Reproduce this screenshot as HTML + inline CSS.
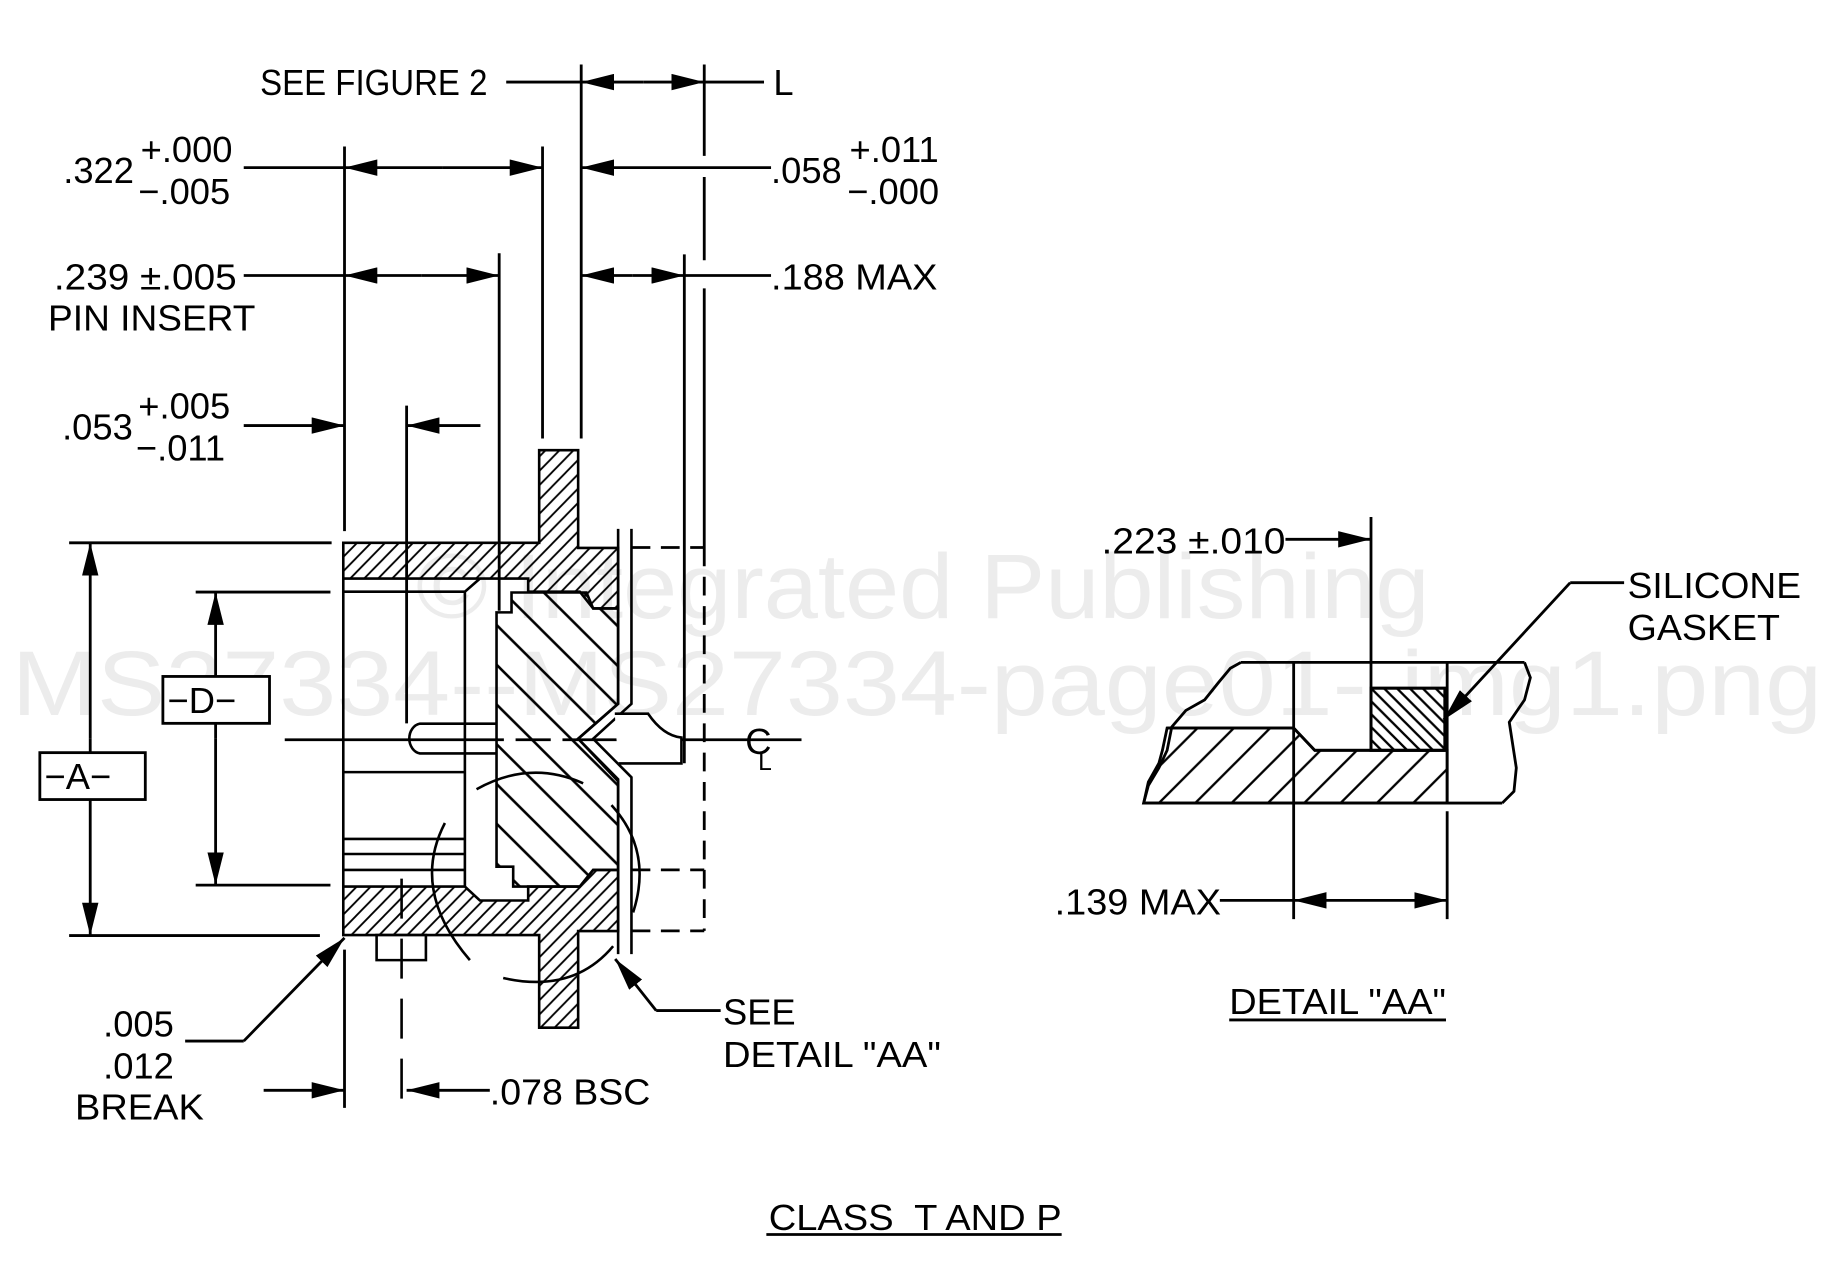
<!DOCTYPE html>
<html><head><meta charset="utf-8"><style>
html,body{margin:0;padding:0;background:#fff;}
svg{display:block;}
text{font-family:"Liberation Sans",Arial,sans-serif;fill:#000;}
</style></head><body>
<svg width="1828" height="1272" viewBox="0 0 1560 1085" preserveAspectRatio="none" xmlns="http://www.w3.org/2000/svg">
<defs>
<marker id="a" markerUnits="userSpaceOnUse" markerWidth="28" markerHeight="14" refX="28" refY="7" orient="auto"><path d="M0,0 L28,7 L0,14 z" fill="#000"/></marker>
<pattern id="h1" patternUnits="userSpaceOnUse" width="42" height="36"><path d="M0,36 L42,0 M-10.5,9 L10.5,-9 M31.5,45 L52.5,27" stroke="#000" stroke-width="5"/></pattern>
<pattern id="h2" patternUnits="userSpaceOnUse" width="120" height="100"><path d="M0,0 L120,100 M-60,50 L60,150 M60,-50 L180,50" stroke="#000" stroke-width="7"/></pattern>
<pattern id="h3" patternUnits="userSpaceOnUse" width="11" height="11"><path d="M0,0 L11,11 M-5.5,5.5 L5.5,16.5 M5.5,-5.5 L16.5,5.5" stroke="#000" stroke-width="2"/></pattern>
<pattern id="h4" patternUnits="userSpaceOnUse" width="31" height="31"><path d="M0,31 L31,0 M-8,8 L8,-8 M23,39 L39,23" stroke="#000" stroke-width="2"/></pattern>
</defs>

<!-- watermark -->
<text x="355" y="527" font-size="78" textLength="865" lengthAdjust="spacingAndGlyphs" style="fill:#ececec">© Integrated Publishing</text>
<text x="10" y="610" font-size="78" textLength="1545" lengthAdjust="spacingAndGlyphs" style="fill:#ececec">MS27334--MS27334-page01--img1.png</text>

<g stroke="#000" stroke-width="2.4" fill="none">
<path d="M294,125 V453 M294,810 V945 M463,125 V374 M496,55 V374 M347,346 V617 M426,216 V521 M584,217 V651 M601,55 V133 M601,151 V222 M601,246 V467"/>
<path d="M59,463 H283 M59,798 H273 M167,505 H282 M167,755 H282"/>
<path d="M432,70 H496 M601,70 H652"/>
<line x1="549" y1="70" x2="496" y2="70" marker-end="url(#a)"/>
<line x1="549" y1="70" x2="601" y2="70" marker-end="url(#a)"/>
<path d="M208,143 H294"/>
<line x1="378" y1="143" x2="294" y2="143" marker-end="url(#a)"/>
<line x1="378" y1="143" x2="463" y2="143" marker-end="url(#a)"/>
<line x1="658" y1="143" x2="496" y2="143" marker-end="url(#a)"/>
<path d="M208,235 H294"/>
<line x1="360" y1="235" x2="294" y2="235" marker-end="url(#a)"/>
<line x1="360" y1="235" x2="426" y2="235" marker-end="url(#a)"/>
<line x1="540" y1="235" x2="496" y2="235" marker-end="url(#a)"/>
<line x1="540" y1="235" x2="584" y2="235" marker-end="url(#a)"/>
<path d="M584,235 H658"/>
<line x1="208" y1="363" x2="294" y2="363" marker-end="url(#a)"/>
<line x1="410" y1="363" x2="347" y2="363" marker-end="url(#a)"/>
<line x1="77" y1="630" x2="77" y2="463" marker-end="url(#a)"/>
<line x1="77" y1="630" x2="77" y2="798" marker-end="url(#a)"/>
<line x1="184" y1="630" x2="184" y2="505" marker-end="url(#a)"/>
<line x1="184" y1="630" x2="184" y2="755" marker-end="url(#a)"/>
<rect x="34" y="642" width="90" height="40" fill="#fff"/>
<rect x="139" y="577" width="91" height="40" fill="#fff"/>
<path d="M243,631 H430 M440,631 H470 M480,631 H684" />
<path d="M539,467 H601 M539,742 H601 M539,794 H601 M601,467 V794" stroke-dasharray="16 9"/>
<path d="M158,888 H208"/>
<line x1="208" y1="888" x2="294" y2="800" marker-end="url(#a)"/>
<line x1="225" y1="930" x2="294" y2="930" marker-end="url(#a)"/>
<line x1="418" y1="930" x2="347" y2="930" marker-end="url(#a)"/>
<path d="M615,862 H560"/>
<line x1="560" y1="862" x2="525" y2="818" marker-end="url(#a)"/>
</g>

<g transform="matrix(0.2843 0 0 0.339 256 366.4)" stroke="#000" fill="none">
<g stroke-width="2.6">
<polygon vector-effect="non-scaling-stroke" fill="url(#h1)" points="130,285 718,285 718,52 835,52 835,298 955,298 955,450 880,450 840,408 685,408 685,375 130,375"/>
<polygon vector-effect="non-scaling-stroke" fill="url(#h1)" points="130,1150 495,1150 540,1185 685,1185 685,1150 840,1150 880,1108 955,1108 955,1262 835,1262 835,1505 718,1505 718,1272 130,1272"/>
<polygon vector-effect="non-scaling-stroke" fill="url(#h2)" points="590,460 635,460 635,410 860,410 880,450 955,450 955,690 835,778 955,885 955,1108 880,1108 840,1150 685,1150 640,1150 640,1100 590,1100"/>
<path vector-effect="non-scaling-stroke" d="M130,375 V1150 M130,408 H495 L540,375 M495,408 V1150 M130,862 H495 M130,1030 H495 M130,1068 H495 M130,1108 H495"/>
<path vector-effect="non-scaling-stroke" d="M590,740 H360 A38,38 0 0 0 360,815 H590"/>
<path vector-effect="non-scaling-stroke" d="M955,250 V690 L835,778 L955,880 V1320 M995,250 V690 L880,778 L995,875 V1320"/>
<path vector-effect="non-scaling-stroke" fill="#fff" d="M945,715 H1045 Q1090,770 1145,775 V840 H955"/>
<rect vector-effect="non-scaling-stroke" x="230" y="1272" width="148" height="63" fill="#fff"/>
<path vector-effect="non-scaling-stroke" d="M305,1130 V1707" stroke-dasharray="40 20"/>
<path vector-effect="non-scaling-stroke" d="M435,990 Q330,1160 510,1335 M530,905 Q690,830 850,890 M935,945 Q1060,1060 1000,1215 M610,1380 Q820,1420 940,1300"/>
</g>
</g>

<g stroke="#000" stroke-width="2.4" fill="none">
<path fill="url(#h4)" d="M996,621 H1104 L1122,640 H1235 V685 H976 L980,667 L989,651 L992,640 Z"/>
<path fill="#fff" d="M1170,587 H1233 V640 H1170 Z"/>
<path fill="url(#h3)" d="M1170,587 H1233 V640 H1170 Z"/>
<path d="M1059,565 H1301 M1059,565 L1050,570 L1040,582 L1028,597 L1012,606 L1000,620 L996,640 L989,655 L980,670 L976,685 H1282 M1301,565 L1306,578 L1301,597 L1288,616 L1294,655 L1292,675 L1282,685 M996,621 H1104 L1122,640 H1233 M1104,565 V784 M1170,441 V640 M1235,565 V685 M1235,692 V784"/>
<line x1="1097" y1="460" x2="1170" y2="460" marker-end="url(#a)"/>
<path d="M1041,768 H1104"/>
<line x1="1170" y1="768" x2="1104" y2="768" marker-end="url(#a)"/>
<line x1="1170" y1="768" x2="1235" y2="768" marker-end="url(#a)"/>
<path d="M1386,497 H1340"/>
<line x1="1340" y1="497" x2="1232" y2="614" marker-end="url(#a)"/>
<path d="M1049,870 H1234 M654,1053 H906"/>
</g>

<g font-size="31">
<text x="222" y="81" textLength="194" lengthAdjust="spacingAndGlyphs">SEE FIGURE 2</text>
<text x="660" y="81">L</text>
<text x="54" y="156">.322</text><text x="120" y="138">+.000</text><text x="118" y="174">−.005</text>
<text x="658" y="156">.058</text><text x="725" y="138">+.011</text><text x="723" y="174">−.000</text>
<text x="46" y="247" textLength="156" lengthAdjust="spacingAndGlyphs">.239 ±.005</text>
<text x="41" y="282" textLength="177" lengthAdjust="spacingAndGlyphs">PIN INSERT</text>
<text x="658" y="247" textLength="142" lengthAdjust="spacingAndGlyphs">.188 MAX</text>
<text x="53" y="375">.053</text><text x="118" y="357">+.005</text><text x="116" y="393">−.011</text>
<text x="38" y="673">−A−</text>
<text x="143" y="608">−D−</text>
<text x="636" y="643">C</text><text x="647" y="657" font-size="21">L</text>
<text x="88" y="884">.005</text>
<text x="88" y="920">.012</text>
<text x="64" y="955" textLength="110" lengthAdjust="spacingAndGlyphs">BREAK</text>
<text x="418" y="942" textLength="137" lengthAdjust="spacingAndGlyphs">.078 BSC</text>
<text x="617" y="874">SEE</text>
<text x="617" y="910" textLength="186" lengthAdjust="spacingAndGlyphs">DETAIL "AA"</text>
<text x="940" y="472" textLength="157" lengthAdjust="spacingAndGlyphs">.223 ±.010</text>
<text x="1389" y="510" textLength="148" lengthAdjust="spacingAndGlyphs">SILICONE</text>
<text x="1389" y="546" textLength="130" lengthAdjust="spacingAndGlyphs">GASKET</text>
<text x="900" y="780" textLength="142" lengthAdjust="spacingAndGlyphs">.139 MAX</text>
<text x="1049" y="865" textLength="185" lengthAdjust="spacingAndGlyphs">DETAIL "AA"</text>
<text x="656" y="1049" textLength="250" lengthAdjust="spacingAndGlyphs">CLASS&#160; T AND P</text>
</g>
</svg>
</body></html>
